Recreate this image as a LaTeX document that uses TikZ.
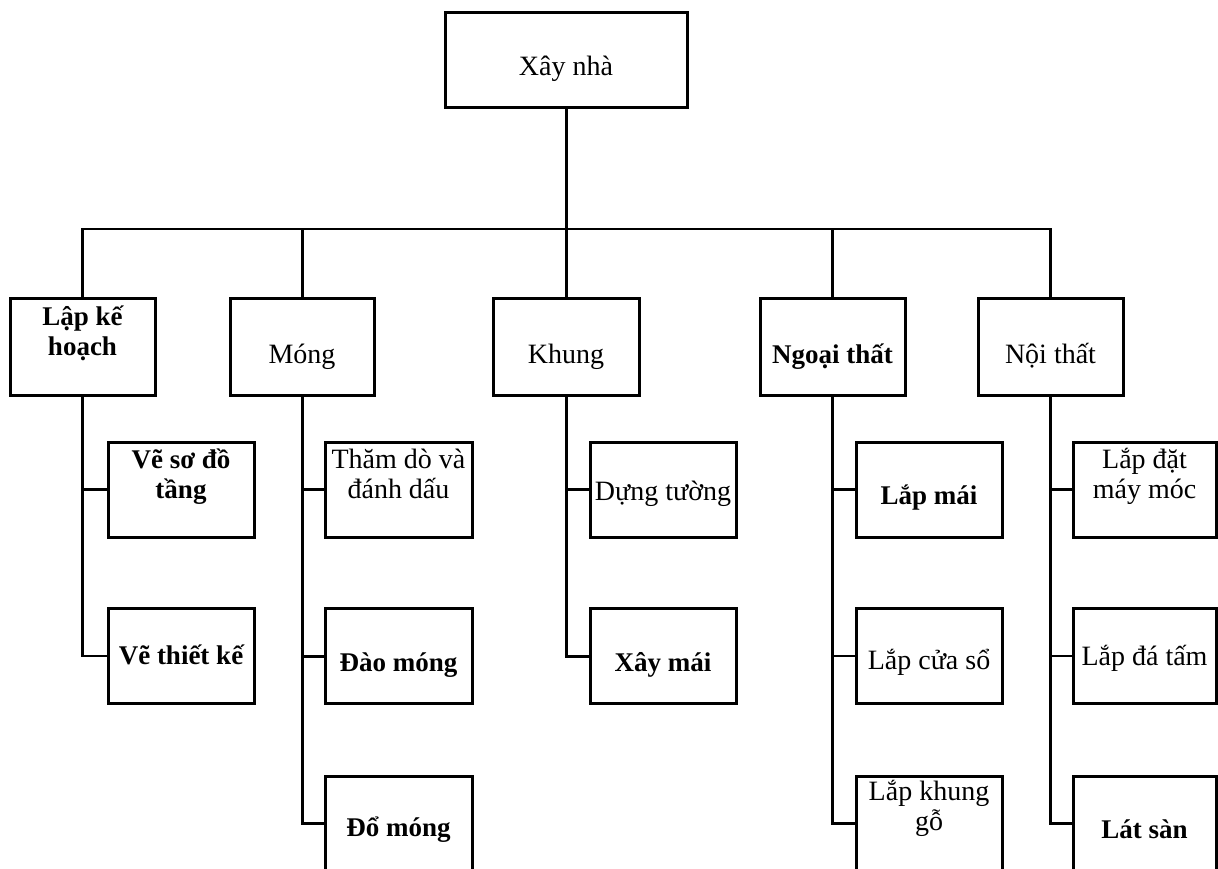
\documentclass[tikz,border=0pt]{standalone}
\usepackage{fontspec}
\setmainfont{Liberation Serif}
\begin{document}
\begin{tikzpicture}[x=1pt,y=-1pt,
  box/.style={draw, line width=3pt, rectangle, inner sep=0pt, minimum width=145pt, minimum height=95pt},
  topbox/.style={box, minimum height=97pt},
  wire/.style={line width=2.2pt},
  heavy/.style={line width=3pt},
  txt/.style={font=\fontsize{28}{30}\selectfont, align=center, anchor=base, inner sep=0pt},
  btxt/.style={txt, font=\fontsize{27}{30}\selectfont\bfseries}]

% multi-line labels are placed by the baseline of their last line
\clip (0,0) rectangle (1218,869);
\fill[white] (0,0) rectangle (1218,869);

% root
\node[box, minimum width=242pt] (root) at (566,60.5) {};
\node[txt] (root-t) at (566,76) {Xây nhà};

% first level
\node[topbox] (plan)  at (82.5,346.5) {};
\node[topbox, minimum width=144pt] (mong)  at (302,346.5) {};
\node[topbox, minimum width=146pt] (khung) at (566,346.5) {};
\node[topbox] (ngoai) at (832.5,346.5) {};
\node[topbox] (noi)   at (1050.5,346.5) {};

\node[btxt] (plan-t)  at (82.5,355) {Lập kế\\hoạch};
\node[txt]  (mong-t)  at (302,363) {Móng};
\node[txt]  (khung-t) at (566,363) {Khung};
\node[btxt] (ngoai-t) at (832.5,363) {Ngoại thất};
\node[txt]  (noi-t)   at (1050.5,363) {Nội thất};

% bus
\coordinate (bus) at (566,229);
\draw[heavy] (root.south) -- (khung.north);
\draw[wire] (plan.north) -- (plan.north |- bus) -- (noi.north |- bus) -- (noi.north);
\draw[heavy] (mong.north) -- (mong.north |- bus);
\draw[wire] (ngoai.north) -- (ngoai.north |- bus);

% second level: planning
\node[box, minimum width=146pt] (p1) at (181,489.5) {};
\node[box, minimum width=146pt] (p2) at (181,656) {};
\node[btxt] (p1-t) at (181,498) {Vẽ sơ đồ\\tầng};
\node[btxt] (p2-t) at (181,664) {Vẽ thiết kế};
\draw[wire] (plan.south) |- (p1.west);
\draw[wire] (plan.south) |- (p2.west);

% second level: foundation
\node[box, minimum width=147pt] (m1) at (398.5,489.5) {};
\node[box, minimum width=147pt] (m2) at (398.5,656) {};
\node[box, minimum width=147pt] (m3) at (398.5,823.5) {};
\node[txt]  (m1-t) at (398.5,498) {Thăm dò và\\đánh dấu};
\node[btxt] (m2-t) at (398.5,671) {Đào móng};
\node[btxt] (m3-t) at (398.5,836) {Đổ móng};
\draw[heavy] (mong.south) |- (m1.west);
\draw[heavy] (mong.south) |- (m2.west);
\draw[heavy] (mong.south) |- (m3.west);

% second level: frame
\node[box, minimum width=146pt] (k1) at (663,489.5) {};
\node[box, minimum width=146pt] (k2) at (663,656) {};
\node[txt]  (k1-t) at (663,500) {Dựng tường};
\node[btxt] (k2-t) at (663,671) {Xây mái};
\draw[heavy] (khung.south) |- (k1.west);
\draw[heavy] (khung.south) |- (k2.west);

% second level: exterior
\node[box, minimum width=146pt] (n1) at (929,489.5) {};
\node[box, minimum width=146pt] (n2) at (929,656) {};
\node[box, minimum width=146pt] (n3) at (929,823.5) {};
\node[btxt] (n1-t) at (929,504) {Lắp mái};
\node[txt]  (n2-t) at (929,669) {Lắp cửa sổ};
\node[txt]  (n3-t) at (929,830) {Lắp khung\\gỗ};
\draw[wire] (ngoai.south) |- (n1.west);
\draw[wire] (ngoai.south) |- (n2.west);
\draw[wire] (ngoai.south) |- (n3.west);

% second level: interior
\node[box, minimum width=143pt] (i1) at (1144.5,489.5) {};
\node[box, minimum width=143pt] (i2) at (1144.5,656) {};
\node[box, minimum width=143pt] (i3) at (1144.5,823.5) {};
\node[txt]  (i1-t) at (1144.5,498) {Lắp đặt\\máy móc};
\node[txt]  (i2-t) at (1144.5,665) {Lắp đá tấm};
\node[btxt] (i3-t) at (1144.5,838) {Lát sàn};
\draw[wire] (noi.south) |- (i1.west);
\draw[wire] (noi.south) |- (i2.west);
\draw[wire] (noi.south) |- (i3.west);
\end{tikzpicture}
\end{document}
